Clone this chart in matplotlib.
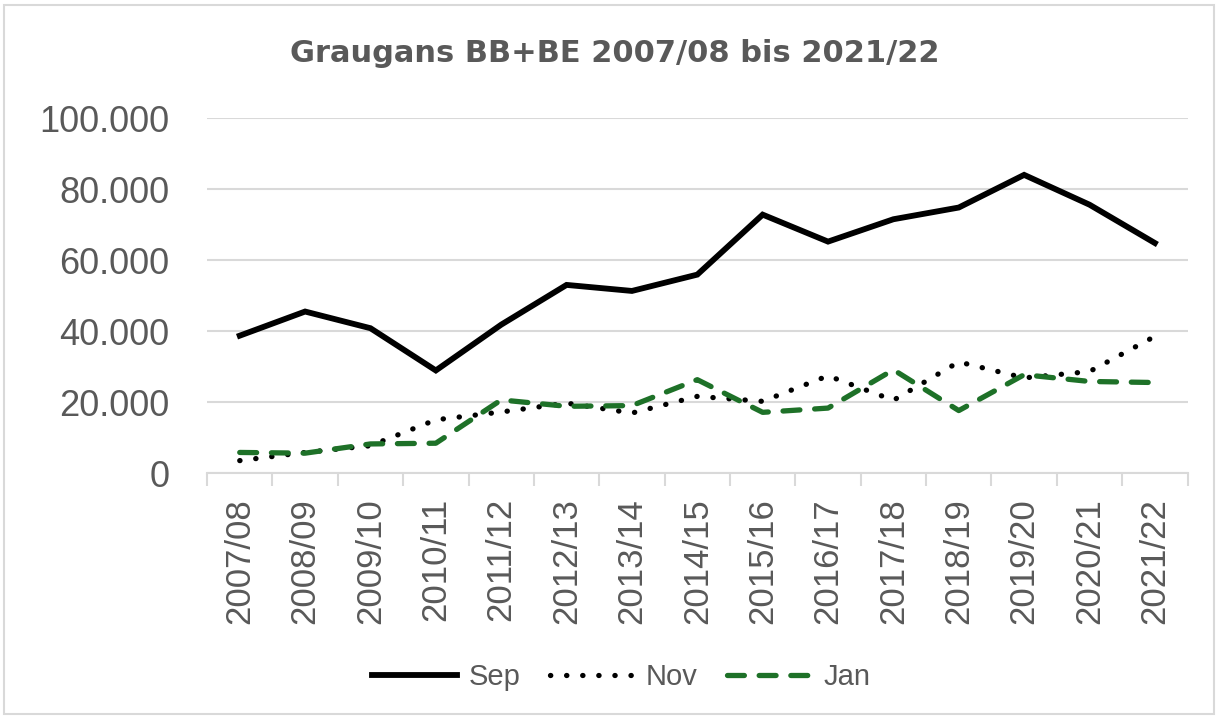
import matplotlib
matplotlib.use("Agg")
import matplotlib.pyplot as plt
from matplotlib.patches import Rectangle
from matplotlib.ticker import FuncFormatter, FixedLocator

seasons = ["2007/08", "2008/09", "2009/10", "2010/11", "2011/12", "2012/13",
           "2013/14", "2014/15", "2015/16", "2016/17", "2017/18", "2018/19",
           "2019/20", "2020/21", "2021/22"]
sep = [38700, 45500, 40800, 28900, 41800, 53000, 51300, 55900, 72800,
       65200, 71500, 74800, 84000, 75600, 64800]
nov = [3500, 5800, 7700, 15000, 17200, 19700, 16900, 21600, 20200,
       27400, 20500, 31300, 26800, 28600, 38500]
jan = [5800, 5600, 8200, 8400, 20600, 18800, 19000, 26300, 17100,
       18300, 29100, 17600, 27700, 25800, 25500]

plt.rcParams['font.family'] = ['Liberation Sans', 'DejaVu Sans']
text_grey = "#595959"
grid_grey = "#d9d9d9"

fig = plt.figure(figsize=(12.18, 7.2), dpi=100)
fig.patches.append(Rectangle((0.003, 0.008), 0.994, 0.985, transform=fig.transFigure,
                             fill=False, edgecolor=grid_grey, linewidth=1.5))
ax = fig.add_axes([0.170, 0.343, 0.805, 0.493])

x = list(range(len(seasons)))
ax.plot(x, sep, color="black", linewidth=4.2, solid_joinstyle="miter", label="Sep")
ax.plot(x, nov, color="black", linewidth=3.8, linestyle=(0, (0.05, 3.0)),
        dash_capstyle="round", label="Nov")
ax.plot(x, jan, color="#1e7128", linewidth=3.8, linestyle=(0, (3.2, 2.8)),
        dash_capstyle="round", label="Jan")

ax.set_xlim(-0.5, len(seasons) - 0.5)
ax.set_ylim(0, 100000)
ax.set_yticks(range(0, 100001, 20000))
ax.yaxis.set_major_formatter(FuncFormatter(lambda v, p: f"{int(v):,}".replace(",", ".")))
ax.grid(axis="y", color=grid_grey, linewidth=1.5)
ax.set_axisbelow(True)

ax.set_xticks(x)
ax.set_xticklabels(seasons, rotation=90)
ax.xaxis.set_minor_locator(FixedLocator([i - 0.5 for i in range(len(seasons) + 1)]))
ax.tick_params(axis="x", which="major", length=0, pad=18, labelsize=25, labelcolor=text_grey)
ax.tick_params(axis="x", which="minor", length=9, width=1.5, color=grid_grey)
ax.tick_params(axis="y", length=0, pad=27, labelsize=26, labelcolor=text_grey)

for s in ["top", "right", "left"]:
    ax.spines[s].set_visible(False)
ax.spines["bottom"].set_color(grid_grey)
ax.spines["bottom"].set_linewidth(1.5)

fig.text(0.505, 0.925, "Graugans BB+BE 2007/08 bis 2021/22", ha="center", va="center",
         fontsize=22, fontweight="bold", color=text_grey, family="DejaVu Sans")

fig.legend(loc="center", bbox_to_anchor=(0.51, 0.06), ncol=3, frameon=False,
           fontsize=21, handlelength=2.9, handletextpad=0.4, columnspacing=1.0,
           labelcolor=text_grey)

fig.savefig("out.png", dpi=100)
